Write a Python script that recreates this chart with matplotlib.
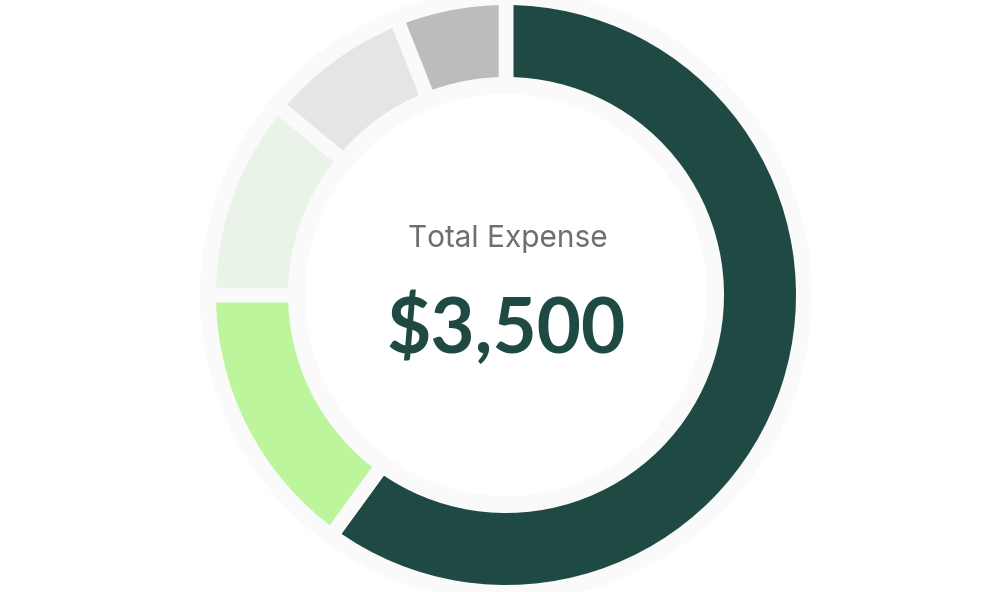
import matplotlib
matplotlib.use("Agg")
import matplotlib.pyplot as plt
from matplotlib.patches import Wedge

categories = ["Category A", "Category B", "Category C", "Category D", "Category E"]
values = [2100, 525, 385, 280, 210]
colors = ["#1f4a43", "#bdf59c", "#eaf3e8", "#e4e6e5", "#bbbdbc"]
title_text = "Total Expense"
total_text = "$3,500"

W, H = 1004, 592
fig = plt.figure(figsize=(W / 100, H / 100), dpi=100)
ax = fig.add_axes([0, 0, 1, 1])

cx, cy = 506, H - 295
ring_color = "#fafafa"
# background ring
ax.add_patch(Wedge((cx, cy), 306, 0, 360, width=105, facecolor=ring_color,
                   edgecolor="none", zorder=0))

lw_pt = 10.5
half_px = lw_pt * 100 / 72 / 2
ax.pie(values, colors=colors, startangle=90, counterclock=False,
       center=(cx, cy), radius=290 + half_px, frame=True,
       wedgeprops=dict(width=72 + 2 * half_px, edgecolor=ring_color,
                       linewidth=lw_pt, joinstyle="miter"))
ax.set_xlim(0, W)
ax.set_ylim(0, H)
ax.axis("off")
ax.set_aspect("auto")

ax.text(cx + 2, H - 239, title_text, ha="center", va="center", fontsize=21.5,
        color="#6b706e", family="Inter", fontweight="normal")
ax.text(cx, H - 329, total_text, ha="center", va="center", fontsize=55,
        color="#1f4a43", family="Lato", fontweight="bold")

fig.savefig("out.png", dpi=100)
